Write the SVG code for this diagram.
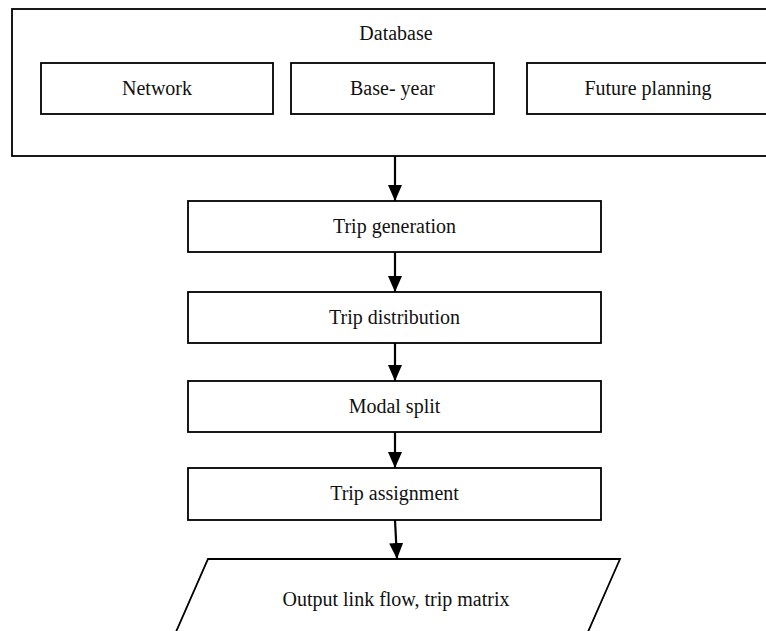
<svg xmlns="http://www.w3.org/2000/svg" width="766" height="631" viewBox="0 0 766 631">
<style>
.box{fill:#fff;stroke:#000;stroke-width:1.8}
.t{font-family:"Liberation Serif","Times New Roman",serif;font-size:20px;fill:#111;text-anchor:middle}
.c{stroke:#000;stroke-width:2.2;fill:none}
</style>
<defs>
<marker id="ah" markerUnits="userSpaceOnUse" markerWidth="18" markerHeight="16" refX="16" refY="7" orient="auto">
<path d="M0,0 L16,7 L0,14 Z" fill="#000"/>
</marker>
</defs>
<rect width="766" height="631" fill="#fff"/>
<g id="database">
<rect class="box" x="12" y="9" width="770" height="147"/>
<text class="t" x="396" y="40">Database</text>
</g>
<g id="network">
<rect class="box" x="41" y="63" width="232" height="51"/>
<text class="t" x="157" y="95">Network</text>
</g>
<g id="baseyear">
<rect class="box" x="291" y="63" width="203" height="51"/>
<text class="t" x="392.5" y="95">Base- year</text>
</g>
<g id="future">
<rect class="box" x="527" y="63" width="243" height="51"/>
<text class="t" x="648" y="95">Future planning</text>
</g>
<g id="tripgen">
<rect class="box" x="188" y="201" width="413" height="51"/>
<text class="t" x="394.5" y="233">Trip generation</text>
</g>
<g id="tripdist">
<rect class="box" x="188" y="292" width="413" height="51"/>
<text class="t" x="394.5" y="324">Trip distribution</text>
</g>
<g id="modal">
<rect class="box" x="188" y="381" width="413" height="51"/>
<text class="t" x="394.5" y="413">Modal split</text>
</g>
<g id="assign">
<rect class="box" x="188" y="468" width="413" height="52"/>
<text class="t" x="394.5" y="500">Trip assignment</text>
</g>
<g id="output">
<path class="box" d="M208,559 L620,559 L584,641 L172,641 Z"/>
<text class="t" x="396" y="606">Output link flow, trip matrix</text>
</g>
<g id="connectors">
<line class="c" x1="395" y1="156" x2="395" y2="201" marker-end="url(#ah)"/>
<line class="c" x1="395" y1="252" x2="395" y2="292" marker-end="url(#ah)"/>
<line class="c" x1="395" y1="343" x2="395" y2="381" marker-end="url(#ah)"/>
<line class="c" x1="395" y1="432" x2="395" y2="468" marker-end="url(#ah)"/>
<line class="c" x1="395" y1="520" x2="397" y2="559" marker-end="url(#ah)"/>
</g>
</svg>
